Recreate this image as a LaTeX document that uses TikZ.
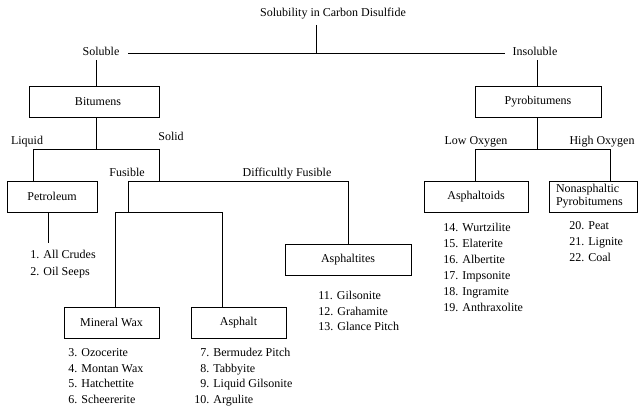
\documentclass[tikz,border=0pt]{standalone}
\usepackage{fontspec}
\setmainfont{Liberation Serif}
\begin{document}
\begin{tikzpicture}[x=1pt,y=-1pt,line width=0.8pt,
  lbl/.style={inner sep=1pt,text height=8.5pt,text depth=2.5pt,font=\fontsize{12}{14}\selectfont},
  item/.style={inner sep=0pt,anchor=west,text height=8.5pt,text depth=2.5pt,font=\fontsize{12}{14}\selectfont},
  box/.style={draw,inner sep=0pt,minimum height=31pt,font=\fontsize{12}{14}\selectfont}]
\useasboundingbox (0,0) rectangle (638,406);
% labels
\node[lbl] (title) at (333,14) {Solubility in Carbon Disulfide};
\node[lbl] (sol) at (101,53) {Soluble};
\node[lbl] (insol) at (535,53) {Insoluble};
\node[lbl] (liq) at (27,142) {Liquid};
\node[lbl] (solid) at (171,138) {Solid};
\node[lbl] (fus) at (127,174) {Fusible};
\node[lbl] (dfus) at (287,174) {Difficultly Fusible};
\node[lbl] (lowox) at (476,142) {Low Oxygen};
\node[lbl] (highox) at (602,142) {High Oxygen};
% boxes
\node[box,minimum width=130pt] (bit) at (94,101.5) {\hspace{8pt}Bitumens};
\node[box,minimum width=126pt] (pyro) at (538,101.5) {Pyrobitumens};
\node[box,minimum width=90pt] (pet) at (52,196.5) {Petroleum};
\node[box,minimum width=104pt] (aoid) at (476,196.5) {Asphaltoids\hspace{11pt}};
\node[box,minimum width=88pt,text width=74pt,align=left,font=\fontsize{12}{13}\selectfont] (nonas) at (593,196.5) {Nonasphaltic\\Pyrobitumens};
\node[box,minimum width=126pt] (aites) at (348,259.5) {Asphaltites\hspace{5pt}};
\node[box,minimum width=95pt] (mwax) at (111.5,322.5) {Mineral Wax\hspace{17pt}};
\node[box,minimum width=95pt] (asph) at (238.5,322.5) {Asphalt\hspace{13pt}};
% junction coordinates
\coordinate (t1) at (316,25);
\coordinate (t2) at (316,53);
\coordinate (hl) at (128,53);
\coordinate (hr) at (505,53);
\coordinate (bj) at (96,149);
\coordinate (bl) at (33,149);
\coordinate (br) at (159,149);
\coordinate (sj) at (159,181);
\coordinate (fl) at (128,181);
\coordinate (fr) at (348,181);
\coordinate (fj) at (128,212);
\coordinate (ml) at (115,212);
\coordinate (mr) at (222,212);
\coordinate (pj) at (537,149);
\coordinate (pl) at (475,149);
\coordinate (pr) at (610,149);
\coordinate (petl) at (48,243);
% connectors
\draw (t1) -- (t2);
\draw (hl) -- (hr);
\draw (sol.south -| bj) -- (bit.north -| bj);
\draw (insol.south -| pj) -- (pyro.north -| pj);
\draw (bit.south -| bj) -- (bj);
\draw (bl |- pet.north) -- (bl) -- (br) -- (sj);
\draw (fl) -- (fr) -- (aites.north -| fr);
\draw (fl) -- (fj);
\draw (mwax.north -| ml) -- (ml) -- (mr) -- (asph.north -| mr);
\draw (pet.south -| petl) -- (petl);
\draw (pyro.south -| pj) -- (pj);
\draw (pl |- aoid.north) -- (pl) -- (pr) -- (nonas.north -| pr);
% lists
\node[item] (p1) at (30,256) {1. All Crudes};
\node[item] (p2) at (30,273) {2. Oil Seeps};
\node[item] (m3) at (68,354) {3. Ozocerite};
\node[item] (m4) at (68,369.5) {4. Montan Wax};
\node[item] (m5) at (68,385) {5. Hatchettite};
\node[item] (m6) at (68,400.5) {6. Scheererite};
\node[item] (a7) at (194,354) {\hphantom{1}7. Bermudez Pitch};
\node[item] (a8) at (194,369.5) {\hphantom{1}8. Tabbyite};
\node[item] (a9) at (194,385) {\hphantom{1}9. Liquid Gilsonite};
\node[item] (a10) at (194,400.5) {10. Argulite};
\node[item] (s11) at (318,297) {11. Gilsonite};
\node[item] (s12) at (318,312.5) {12. Grahamite};
\node[item] (s13) at (318,328) {13. Glance Pitch};
\node[item] (o14) at (443,229) {14. Wurtzilite};
\node[item] (o15) at (443,245) {15. Elaterite};
\node[item] (o16) at (443,261) {16. Albertite};
\node[item] (o17) at (443,277) {17. Impsonite};
\node[item] (o18) at (443,293) {18. Ingramite};
\node[item] (o19) at (443,309) {19. Anthraxolite};
\node[item] (n20) at (569,227) {20. Peat};
\node[item] (n21) at (569,243) {21. Lignite};
\node[item] (n22) at (569,259) {22. Coal};
\end{tikzpicture}
\end{document}
